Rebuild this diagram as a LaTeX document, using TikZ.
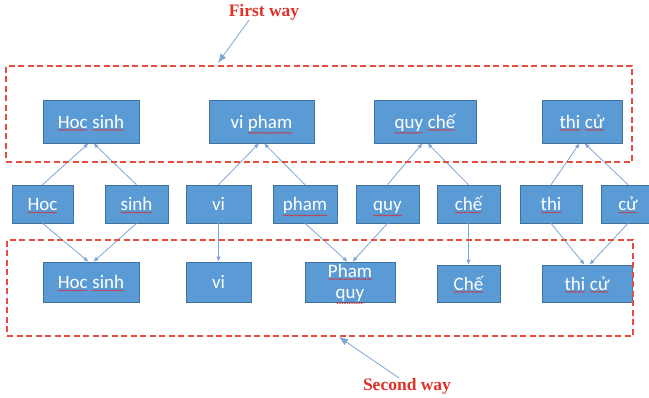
\documentclass[tikz,border=0pt]{standalone}
\usepackage{fontspec}
\setmainfont{Carlito}
\newfontfamily\labelfont{Liberation Serif}
\usetikzlibrary{arrows.meta,decorations.pathmorphing}

\definecolor{boxblue}{RGB}{91,155,213}
\definecolor{boxedge}{RGB}{65,113,156}
\definecolor{linkblue}{RGB}{125,166,214}
\definecolor{wayred}{RGB}{224,48,40}
\definecolor{dashred}{RGB}{231,76,60}
\definecolor{spellred}{RGB}{220,40,40}

% word with a red wavy underline
\newcommand\spw[1]{\tikz[baseline=(w.base),x=1pt,y=1pt]{%
  \node[inner sep=0pt,outer sep=0pt,draw=none,fill=none,minimum size=0pt,
        text height=,text depth=] (w) {#1};%
  \draw[spellred,line width=0.45pt,decorate,decoration={snake,amplitude=0.55pt,segment length=2.4pt}]
    ([yshift=-1.6pt]w.south west) -- ([yshift=-1.6pt]w.south east);}}

\begin{document}
\begin{tikzpicture}[x=1pt,y=-1pt,
  box/.style={draw=boxedge,line width=0.6pt,fill=boxblue,text=white,inner sep=0pt,
    text height=13.5pt,text depth=0pt,font=\fontsize{19}{21}\selectfont},
  boxtext/.style={text=white,inner sep=0pt,align=center,font=\fontsize{19}{21}\selectfont},
  link/.style={draw=linkblue,line width=0.8pt,-{Latex[length=5pt,width=4.5pt]}},
  wayarrow/.style={draw=linkblue,line width=0.8pt,-{Latex[length=9pt,width=7pt]}},
  waybox/.style={draw=dashred,line width=1.4pt,dash pattern=on 6pt off 3.5pt,inner sep=0pt},
  waytext/.style={text=wayred,inner sep=0pt,font=\labelfont\bfseries\fontsize{17.5}{20}\selectfont}]

\useasboundingbox (0,0) rectangle (649,398);

% compound words (first way)
\node[box,minimum width=96pt,minimum height=43pt] (hs1) at (91,121.5) {\spw{Hoc} \spw{sinh}};
\node[box,minimum width=105pt,minimum height=43pt] (vp) at (261.5,121.5) {vi \spw{pham}};
\node[box,minimum width=102pt,minimum height=43pt] (qc) at (425,121.5) {\spw{quy} \spw{chế}};
\node[box,minimum width=80pt,minimum height=43pt] (tc1) at (582,121.5) {\spw{thi} \spw{cử}};

% single syllables
\node[box,minimum width=61pt,minimum height=38pt] (hoc) at (42.5,204) {\spw{Hoc}};
\node[box,minimum width=63pt,minimum height=38pt] (sinh) at (136.5,204) {\spw{sinh}};
\node[box,minimum width=65pt,minimum height=38pt] (vi) at (218.5,204) {vi};
\node[box,minimum width=64pt,minimum height=38pt] (pham) at (305,204) {\spw{pham}};
\node[box,minimum width=63pt,minimum height=38pt] (quy) at (387.5,204) {\spw{quy}};
\node[box,minimum width=63pt,minimum height=38pt] (che) at (468.5,204) {\spw{chế}};
\node[box,minimum width=62pt,minimum height=38pt] (thi) at (551,204) {\spw{thi}};
\node[box,minimum width=54pt,minimum height=38pt] (cu) at (628,204) {\spw{cử}};

% second way
\node[box,minimum width=96pt,minimum height=40pt] (hs2) at (91,282) {\spw{Hoc} \spw{sinh}};
\node[box,minimum width=65pt,minimum height=40pt] (vi2) at (218.5,282) {vi};
\node[box,minimum width=90pt,minimum height=40pt] (pq) at (350,282) {};
\node[boxtext] (pqt) at (350,284) {\spw{Pham}\\\spw{quy}};
\node[box,minimum width=63pt,minimum height=37pt] (che2) at (468.5,283.5) {\spw{Chế}};
\node[box,minimum width=90pt,minimum height=37pt] (tc2) at (587,283.5) {\spw{thi} \spw{cử}};

% connectors up to the first way
\draw[link] (hoc.north) -- ([xshift=-2.5pt]hs1.south);
\draw[link] (sinh.north) -- ([xshift=2.5pt]hs1.south);
\draw[link] (vi.north) -- ([xshift=-2.5pt]vp.south);
\draw[link] (pham.north) -- ([xshift=2.5pt]vp.south);
\draw[link] (quy.north) -- ([xshift=-2.5pt]qc.south);
\draw[link] (che.north) -- ([xshift=2.5pt]qc.south);
\draw[link] (thi.north) -- ([xshift=-2.5pt]tc1.south);
\draw[link] (cu.north) -- ([xshift=2.5pt]tc1.south);

% connectors down to the second way
\draw[link] (hoc.south) -- ([xshift=-2.5pt]hs2.north);
\draw[link] (sinh.south) -- ([xshift=2.5pt]hs2.north);
\draw[link] (vi.south) -- (vi2.north);
\draw[link] (pham.south) -- ([xshift=-2.5pt]pq.north);
\draw[link] (quy.south) -- ([xshift=2.5pt]pq.north);
\draw[link] (che.south) -- (che2.north);
\draw[link] (thi.south) -- ([xshift=-2.5pt]tc2.north);
\draw[link] (cu.south) -- ([xshift=2.5pt]tc2.north);

% dashed frames
\node[waybox,minimum width=626pt,minimum height=96pt] (way1) at (319,114) {};
\node[waybox,minimum width=626pt,minimum height=96pt] (way2) at (320,288) {};

% captions
\node[waytext] (fw) at (264,12) {First way};
\node[waytext] (sw) at (407,386) {Second way};
\coordinate (fwtail) at (249,20);
\coordinate (fwtip) at (218,63);
\coordinate (swtail) at (399,378);
\coordinate (swtip) at (339,337);
\draw[wayarrow] (fwtail) -- (fwtip);
\draw[wayarrow] (swtail) -- (swtip);
\end{tikzpicture}
\end{document}
